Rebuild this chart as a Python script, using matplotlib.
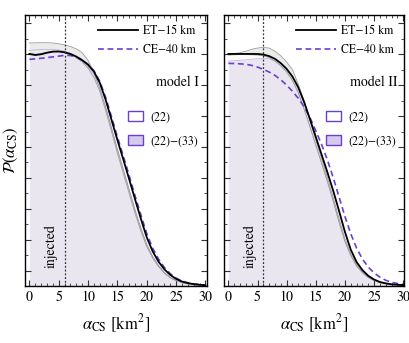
import numpy as np
import matplotlib
matplotlib.use("Agg")
import matplotlib.pyplot as plt
from matplotlib.lines import Line2D
from matplotlib.patches import Patch
from matplotlib.ticker import MultipleLocator, NullFormatter

plt.rcParams['font.family'] = 'STIXGeneral'
plt.rcParams['mathtext.fontset'] = 'stix'

# alpha_CS grid [km^2]
alpha = np.arange(0, 31)
injected = 6

# model I (left panel), values in arbitrary probability units
et_I = [15.02, 14.95, 15.0, 15.1, 15.17, 15.18, 15.13, 15.02, 14.85, 14.62, 14.32,
        13.88, 13.15, 12.05, 10.75, 9.45, 8.2, 6.92, 5.62, 4.35, 3.15,
        2.25, 1.58, 1.08, 0.72, 0.46, 0.29, 0.19, 0.12, 0.08, 0.05]
ce_I = [14.67, 14.7, 14.74, 14.78, 14.83, 14.88, 14.93, 14.92, 14.8, 14.62, 14.35,
        13.93, 13.25, 12.2, 10.95, 9.65, 8.42, 7.15, 5.85, 4.6, 3.4,
        2.45, 1.75, 1.2, 0.8, 0.51, 0.32, 0.2, 0.13, 0.09, 0.06]
grayhi_I = [15.73, 15.74, 15.75, 15.75, 15.73, 15.68, 15.6, 15.5, 15.35, 15.1, 14.6,
            13.85, 12.8, 11.55, 10.2, 8.85, 7.55, 6.25, 4.95, 3.75, 2.7,
            1.92, 1.33, 0.88, 0.56, 0.36, 0.23, 0.14, 0.09, 0.06, 0.04]
graylo_I = [15.05, 15.0, 15.05, 15.12, 15.17, 15.17, 15.1, 14.98, 14.8, 14.5, 14.1,
            13.5, 12.6, 11.35, 10.0, 8.6, 7.3, 6.0, 4.72, 3.55, 2.55,
            1.82, 1.26, 0.83, 0.53, 0.34, 0.21, 0.13, 0.08, 0.05, 0.03]
lav_I = [15.25, 15.28, 15.3, 15.3, 15.3, 15.28, 15.2, 15.05, 14.82, 14.55, 14.2,
         13.7, 12.8, 11.6, 10.25, 8.85, 7.55, 6.2, 4.9, 3.7, 2.65,
         1.87, 1.3, 0.85, 0.55, 0.35, 0.22, 0.14, 0.09, 0.06, 0.04]

# model II (right panel)
et_II = [15.02, 15.02, 15.02, 15.02, 15.02, 15.02, 14.98, 14.88, 14.7, 14.42, 14.05,
         13.55, 12.85, 11.9, 10.8, 9.65, 8.5, 7.35, 6.15, 4.85, 3.5,
         2.35, 1.55, 1.03, 0.66, 0.42, 0.26, 0.17, 0.11, 0.08, 0.06]
ce_II = [14.41, 14.4, 14.38, 14.35, 14.28, 14.17, 14.02, 13.85, 13.63, 13.35, 13.0,
         12.6, 12.15, 11.6, 10.9, 10.05, 9.15, 8.15, 7.0, 5.75, 4.5,
         3.38, 2.45, 1.75, 1.22, 0.85, 0.57, 0.37, 0.24, 0.16, 0.11]
grayhi_II = [15.02, 15.05, 15.1, 15.2, 15.32, 15.4, 15.45, 15.4, 15.2, 14.9, 14.5,
             14.0, 13.05, 12.0, 10.7, 9.45, 8.25, 7.0, 5.7, 4.35, 3.05,
             2.08, 1.4, 0.93, 0.59, 0.37, 0.23, 0.15, 0.1, 0.07, 0.05]
graylo_II = [14.95, 14.97, 14.98, 14.98, 14.97, 14.95, 14.9, 14.78, 14.55, 14.25, 13.85,
             13.3, 12.5, 11.45, 10.3, 9.12, 7.95, 6.75, 5.48, 4.12, 2.88,
             1.97, 1.3, 0.86, 0.55, 0.35, 0.22, 0.14, 0.09, 0.06, 0.04]
lav_II = [14.56, 14.58, 14.61, 14.64, 14.68, 14.71, 14.74, 14.7, 14.55, 14.25, 13.85,
          13.3, 12.5, 11.45, 10.3, 9.12, 7.95, 6.75, 5.48, 4.12, 2.88,
          1.97, 1.3, 0.86, 0.55, 0.35, 0.22, 0.14, 0.09, 0.06, 0.04]

panels = [
    ("model I", et_I, ce_I, grayhi_I, graylo_I, lav_I),
    ("model II", et_II, ce_II, grayhi_II, graylo_II, lav_II),
]

purple = "#6b3fd0"
fig = plt.figure(figsize=(4.09, 3.43), dpi=100)
axes = [fig.add_axes([0.0611, 0.1662, 0.444, 0.790]),
        fig.add_axes([0.5477, 0.1662, 0.441, 0.790])]

for ax, (name, et, ce, ghi, glo, lav) in zip(axes, panels):
    ax.fill_between(alpha, 0, lav, color="#e9e6ef", lw=0, zorder=1)
    ax.fill_between(alpha, glo, ghi, color="#ebebeb", lw=0, zorder=1.5)
    ax.plot(alpha, lav, color="#b9a8e0", lw=0.5, zorder=2)
    ax.plot(alpha, ghi, color="#9c9c9c", lw=0.6, zorder=2)
    ax.plot(alpha, glo, color="#9c9c9c", lw=0.6, zorder=2)
    ax.plot(alpha, et, color="black", lw=1.3, zorder=4)
    ax.plot(alpha, ce, color=purple, lw=1.2, ls=(0, (3.5, 2.2)), zorder=3)
    ax.axvline(injected, color="#333333", lw=0.9, ls=(0, (1.5, 1.5)), zorder=5)
    ax.text(4.9, 2.6, "injected", rotation=90, ha="right", va="center",
            fontsize=10, zorder=6)

    ax.set_xlim(-0.75, 30.2)
    ax.set_ylim(0, 17.54)
    ax.xaxis.set_major_locator(MultipleLocator(5))
    ax.xaxis.set_minor_locator(MultipleLocator(1))
    ax.set_yticks(np.arange(1, 18, 2))
    ax.set_yticks(np.arange(0, 18, 2), minor=True)
    ax.yaxis.set_major_formatter(NullFormatter())
    ax.tick_params(which="both", direction="in", top=True, right=True,
                   labelsize=10, color="#333333")
    ax.tick_params(which="major", length=4, width=0.8)
    ax.tick_params(which="minor", length=2, width=0.6)
    for s in ax.spines.values():
        s.set_linewidth(1.0)
    ax.set_xlabel(r"$\alpha_{\rm CS}$ [km$^2$]", fontsize=12, labelpad=6)

    h1 = [Line2D([], [], color="black", lw=1.3),
          Line2D([], [], color=purple, lw=1.2, ls=(0, (3.5, 2.2)))]
    leg1 = ax.legend(h1, ["ET\u221215 km", "CE\u221240 km"], loc="upper right",
                     bbox_to_anchor=(1.0, 1.0), frameon=False, fontsize=8.5,
                     handlelength=3.4, handletextpad=0.45, labelspacing=0.6,
                     borderaxespad=0.5)
    ax.add_artist(leg1)
    ax.text(0.96, 0.75, name, transform=ax.transAxes, ha="right",
            va="center", fontsize=10)
    h2 = [Patch(facecolor="white", edgecolor=purple, lw=1.0),
          Patch(facecolor="#d5c9ec", edgecolor=purple, lw=1.0)]
    ax.legend(h2, ["(22)", "(22)\u2212(33)"], loc="upper left",
              bbox_to_anchor=(0.565, 0.645), frameon=False, fontsize=8.5,
              handlelength=1.3, handleheight=0.95, handletextpad=0.6,
              labelspacing=1.0, borderaxespad=0.0, borderpad=0.0)

axes[0].set_ylabel(r"$\mathcal{P}(\alpha_{\rm CS})$", fontsize=12, labelpad=0)

fig.savefig("out.png", dpi=100)
